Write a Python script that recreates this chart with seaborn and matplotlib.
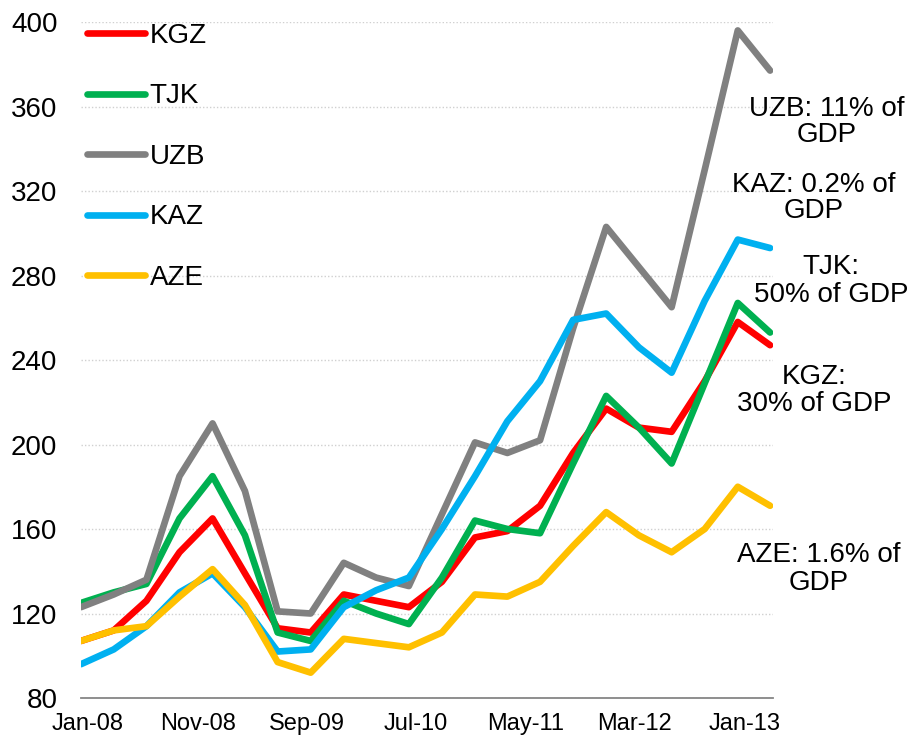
import pandas as pd
import numpy as np
import seaborn as sns
import matplotlib
matplotlib.use("Agg")
import matplotlib.pyplot as plt
import matplotlib.transforms as mtransforms

# quarterly observations, Jan-08 .. Apr-13
quarters = ["2008-01", "2008-04", "2008-07", "2008-10",
            "2009-01", "2009-04", "2009-07", "2009-10",
            "2010-01", "2010-04", "2010-07", "2010-10",
            "2011-01", "2011-04", "2011-07", "2011-10",
            "2012-01", "2012-04", "2012-07", "2012-10",
            "2013-01", "2013-04"]

kgz = [107, 112, 126, 149, 165, 139, 113, 111, 129, 126, 123, 135,
       156, 159, 171, 196, 217, 208, 206, 230, 258, 247]
tjk = [125, 130, 134, 165, 185, 157, 111, 107, 126, 120, 115, 137,
       164, 160, 158, 191, 223, 208, 191, 229, 267, 253]
uzb = [123, 129, 136, 185, 210, 178, 121, 120, 144, 137, 133, 167,
       201, 196, 202, 255, 303, 284, 265, 330, 396, 377]
kaz = [96, 103, 114, 130, 139, 123, 102, 103, 123, 131, 137, 160,
       185, 211, 230, 259, 262, 246, 234, 268, 297, 293]
aze = [107, 112, 114, 128, 141, 124, 97, 92, 108, 106, 104, 111,
       129, 128, 135, 152, 168, 157, 149, 160, 180, 171]

series_names = ["KGZ", "TJK", "UZB", "KAZ", "AZE"]
colors = ["#FF0000", "#00B050", "#808080", "#00B0F0", "#FFC000"]

tick_dates = ["2008-01-01", "2008-11-01", "2009-09-01", "2010-07-01",
              "2011-05-01", "2012-03-01", "2013-01-01"]
tick_labels = ["Jan-08", "Nov-08", "Sep-09", "Jul-10", "May-11", "Mar-12", "Jan-13"]
y_ticks = [80, 120, 160, 200, 240, 280, 320, 360, 400]

notes = ["UZB: 11% of\nGDP", "KAZ: 0.2% of\nGDP", "TJK:\n50% of GDP",
         "KGZ:\n30% of GDP", "AZE: 1.6% of\nGDP"]

# long-form table for seaborn
dates = pd.to_datetime(quarters)
df = pd.DataFrame({"date": np.tile(dates, 5),
                   "value": kgz + tjk + uzb + kaz + aze,
                   "country": np.repeat(series_names, len(quarters))})

sns.set_style("white")
plt.rcParams["font.family"] = ["Liberation Sans", "DejaVu Sans"]
plt.rcParams["text.color"] = "black"

W, H = 909, 739
fig = plt.figure(figsize=(W / 100, H / 100), dpi=100)
ax = fig.add_axes([81 / W, 1 - 698 / H, (773 - 81) / W, (698 - 22) / H])

sns.lineplot(data=df, x="date", y="value", hue="country",
             hue_order=series_names, palette=colors, linewidth=4.8,
             ax=ax, legend=True, solid_capstyle="round", solid_joinstyle="round")

ax.set_xlim(pd.Timestamp("2008-01-01"), pd.Timestamp("2013-04-09"))
ax.set_ylim(80, 400)
ax.set_yticks(y_ticks)
ax.set_xticks(pd.to_datetime(tick_dates))
ax.set_xticklabels(tick_labels)
ax.set_xlabel("")
ax.set_ylabel("")

ax.tick_params(axis="y", labelsize=20, length=0, pad=17, labelcolor="black")
ax.tick_params(axis="x", labelsize=17, length=0, pad=11, labelcolor="black")
shift = mtransforms.ScaledTranslation(0.07, 0, fig.dpi_scale_trans)
for lab in ax.get_xticklabels():
    lab.set_transform(lab.get_transform() + shift)

ax.grid(axis="y", linestyle=(0, (1, 1.5)), color="#D0D0D0", linewidth=1)
ax.grid(axis="x", visible=False)
for side in ["left", "right", "top"]:
    ax.spines[side].set_visible(False)
ax.spines["bottom"].set_color("#868686")
ax.spines["bottom"].set_linewidth(1.3)
ax.spines["bottom"].set_zorder(5)

leg = ax.legend(loc="upper left", bbox_to_anchor=(87 / W, 1 - 23 / H),
                bbox_transform=fig.transFigure, frameon=False, fontsize=20,
                handlelength=2.1, handletextpad=0.15, labelspacing=1.24,
                borderpad=0, borderaxespad=0)
for h in leg.get_lines():
    h.set_linewidth(4.8)
    h.set_solid_capstyle("round")

note_pos = [(827, 122), (814, 198), (831, 281), (814, 391), (819, 569)]
for txt, (px, py) in zip(notes, note_pos):
    fig.text(px / W, 1 - py / H, txt, ha="center", va="center",
             fontsize=20, linespacing=1.05)

fig.savefig("out.png", dpi=100)
